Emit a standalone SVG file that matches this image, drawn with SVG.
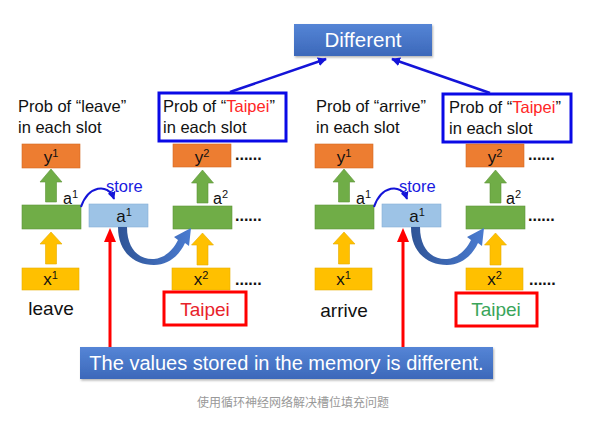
<svg xmlns="http://www.w3.org/2000/svg" width="603" height="423" viewBox="0 0 603 423">
<defs>
<linearGradient id="gBlue" x1="0" y1="0" x2="0" y2="1">
<stop offset="0" stop-color="#5585D6"/>
<stop offset="1" stop-color="#3C68BA"/>
</linearGradient>
<linearGradient id="gCurve" x1="0" y1="0" x2="1" y2="0">
<stop offset="0" stop-color="#2F5496"/>
<stop offset="1" stop-color="#4A7BD0"/>
</linearGradient>
<filter id="sh" x="-10%" y="-10%" width="120%" height="140%">
<feDropShadow dx="1" dy="1.5" stdDeviation="1" flood-color="#000" flood-opacity="0.3"/>
</filter>
<marker id="mBlue" viewBox="0 0 10 10" refX="9" refY="5" markerWidth="9" markerHeight="9" markerUnits="userSpaceOnUse" orient="auto">
<path d="M0,0 L10,5 L0,10 Z" fill="#1414D8"/>
</marker>
<marker id="mStore" viewBox="0 0 10 10" refX="9" refY="5" markerWidth="8" markerHeight="8" markerUnits="userSpaceOnUse" orient="auto">
<path d="M0,0 L10,5 L0,10 Z" fill="#1414D8"/>
</marker>
</defs>
<style>
.t{font-family:"Liberation Sans",Arial,sans-serif;fill:#111}
.prob{font-size:16.5px}
.orange{fill:#ED7D31;stroke:#D46A22;stroke-width:0.6}
.green{fill:#70AD47;stroke:#5E9539;stroke-width:0.6}
.yellow{fill:#FFC000;stroke:#E6AD00;stroke-width:0.6}
.lblue{fill:#9DC3E6;stroke:#86AFD6;stroke-width:0.6}
.garrow{fill:#70AD47;stroke:#5E9539;stroke-width:0.6}
.yarrow{fill:#FFC000;stroke:#E6AD00;stroke-width:0.6}
.bl{font-size:17px}
.sup{font-size:11px}
.dots{font-size:16px;font-weight:bold}
.bbox{fill:#fff;stroke:#0A0AE6;stroke-width:3}
.rbox{fill:#fff;stroke:#FF0000;stroke-width:3}
.bnr{fill:url(#gBlue)}
.wt{font-family:"Liberation Sans",Arial,sans-serif;fill:#fff}
</style>
<rect width="603" height="423" fill="#fff"/>

<g id="different">
<rect x="294" y="24" width="138" height="32" class="bnr" filter="url(#sh)"/>
<text x="363" y="47" class="wt" font-size="20.5" text-anchor="middle">Different</text>
</g>

<g id="probLeave">
<text x="18" y="112" class="t prob">Prob of “leave”</text>
<text x="18" y="133" class="t prob">in each slot</text>
</g>
<g id="probTaipeiL">
<rect x="159" y="93" width="127" height="48" class="bbox"/>
<text x="163" y="112" class="t prob">Prob of “<tspan fill="#FF2626">Taipei</tspan>”</text>
<text x="163" y="133" class="t prob">in each slot</text>
</g>
<g id="y1L">
<rect x="22" y="144" width="58" height="24" class="orange"/>
<text x="51" y="163" class="t bl" text-anchor="middle">y<tspan class="sup" dy="-6">1</tspan></text>
</g>
<g id="h1L">
<rect x="22" y="205" width="59" height="24" class="green"/>
<text x="63" y="204" class="t" font-size="16">a<tspan class="sup" dy="-6">1</tspan></text>
</g>
<g id="storeL">
<rect x="89" y="204" width="59" height="23" class="lblue"/>
<text x="124" y="222" class="t bl" text-anchor="middle">a<tspan class="sup" dy="-6">1</tspan></text>
<text x="106" y="192" font-family="Liberation Sans,Arial,sans-serif" font-size="16.5" fill="#1A1AE0">store</text>
</g>
<g id="x1L">
<rect x="22" y="268" width="57" height="22" class="yellow"/>
<text x="50.5" y="285" class="t bl" text-anchor="middle">x<tspan class="sup" dy="-6">1</tspan></text>
</g>
<g id="leave">
<text x="51" y="315" class="t" font-size="19" text-anchor="middle">leave</text>
</g>
<g id="y2L">
<rect x="173" y="144" width="58" height="23" class="orange"/>
<text x="202" y="163" class="t bl" text-anchor="middle">y<tspan class="sup" dy="-6">2</tspan></text>
<text x="235" y="160" class="t dots">......</text>
</g>
<g id="h2L">
<rect x="173" y="206" width="59" height="23" class="green"/>
<text x="213" y="204" class="t" font-size="16">a<tspan class="sup" dy="-6">2</tspan></text>
<text x="235" y="221" class="t dots">......</text>
</g>
<g id="x2L">
<rect x="172" y="268" width="58" height="22" class="yellow"/>
<text x="201" y="285" class="t bl" text-anchor="middle">x<tspan class="sup" dy="-6">2</tspan></text>
<text x="235" y="285" class="t dots">......</text>
</g>
<g id="taipeiL">
<rect x="164" y="292" width="82" height="33" class="rbox"/>
<text x="205" y="316" font-family="Liberation Sans,Arial,sans-serif" font-size="19" fill="#E8232B" text-anchor="middle">Taipei</text>
</g>

<g id="probArrive">
<text x="316" y="112" class="t prob">Prob of “arrive”</text>
<text x="316" y="133" class="t prob">in each slot</text>
</g>
<g id="probTaipeiR">
<rect x="443" y="94" width="128" height="48" class="bbox"/>
<text x="449" y="113" class="t prob">Prob of “<tspan fill="#FF2626">Taipei</tspan>”</text>
<text x="449" y="134" class="t prob">in each slot</text>
</g>
<g id="y1R">
<rect x="315" y="144" width="58" height="24" class="orange"/>
<text x="344" y="163" class="t bl" text-anchor="middle">y<tspan class="sup" dy="-6">1</tspan></text>
</g>
<g id="h1R">
<rect x="315" y="205" width="59" height="24" class="green"/>
<text x="356" y="204" class="t" font-size="16">a<tspan class="sup" dy="-6">1</tspan></text>
</g>
<g id="storeR">
<rect x="382" y="204" width="59" height="23" class="lblue"/>
<text x="417" y="222" class="t bl" text-anchor="middle">a<tspan class="sup" dy="-6">1</tspan></text>
<text x="399" y="192" font-family="Liberation Sans,Arial,sans-serif" font-size="16.5" fill="#1A1AE0">store</text>
</g>
<g id="x1R">
<rect x="315" y="268" width="57" height="22" class="yellow"/>
<text x="343.5" y="285" class="t bl" text-anchor="middle">x<tspan class="sup" dy="-6">1</tspan></text>
</g>
<g id="arrive">
<text x="344" y="317" class="t" font-size="19" text-anchor="middle">arrive</text>
</g>
<g id="y2R">
<rect x="466" y="144" width="58" height="23" class="orange"/>
<text x="495" y="163" class="t bl" text-anchor="middle">y<tspan class="sup" dy="-6">2</tspan></text>
<text x="528" y="160" class="t dots">......</text>
</g>
<g id="h2R">
<rect x="466" y="206" width="59" height="23" class="green"/>
<text x="506" y="204" class="t" font-size="16">a<tspan class="sup" dy="-6">2</tspan></text>
<text x="528" y="221" class="t dots">......</text>
</g>
<g id="x2R">
<rect x="466" y="268" width="57" height="22" class="yellow"/>
<text x="494.5" y="285" class="t bl" text-anchor="middle">x<tspan class="sup" dy="-6">2</tspan></text>
<text x="529" y="285" class="t dots">......</text>
</g>
<g id="taipeiR">
<rect x="456" y="293" width="81" height="33" class="rbox"/>
<text x="496" y="316" font-family="Liberation Sans,Arial,sans-serif" font-size="19" fill="#3AA55A" text-anchor="middle">Taipei</text>
</g>

<g id="banner">
<rect x="80" y="347" width="413" height="32" class="bnr" filter="url(#sh)"/>
<text x="286.5" y="370" class="wt" font-size="20" text-anchor="middle">The values stored in the memory is different.</text>
</g>

<g id="caption">
<text x="293" y="407" font-family="Noto Sans CJK SC,Noto Sans,sans-serif" font-size="12" fill="#999" text-anchor="middle">使用循环神经网络解决槽位填充问题</text>
</g>

<g id="connectors">
<line x1="230" y1="92" x2="326" y2="59" stroke="#1414D8" stroke-width="2.5" marker-end="url(#mBlue)"/>
<line x1="490" y1="93" x2="392" y2="59" stroke="#1414D8" stroke-width="2.5" marker-end="url(#mBlue)"/>

<polygon class="garrow" points="51,169 62,182 56.5,182 56.5,202 45.5,202 45.5,182 40,182"/>
<polygon class="garrow" points="202.5,170 213.5,183 208,183 208,203 197,203 197,183 191.5,183"/>
<polygon class="yarrow" points="51,232 62,244 56.5,244 56.5,264 45.5,264 45.5,244 40,244"/>
<polygon class="yarrow" points="202.5,233 213.5,245 208,245 208,265 197,265 197,245 191.5,245"/>
<polygon class="garrow" points="344,169 355,182 349.5,182 349.5,202 338.5,202 338.5,182 333,182"/>
<polygon class="garrow" points="495.5,170 506.5,183 501,183 501,203 490,203 490,183 484.5,183"/>
<polygon class="yarrow" points="344,232 355,244 349.5,244 349.5,264 338.5,264 338.5,244 333,244"/>
<polygon class="yarrow" points="495.5,233 506.5,245 501,245 501,265 490,265 490,245 484.5,245"/>

<path d="M81,207 C88,186 108,182 114,199" fill="none" stroke="#1414D8" stroke-width="2" marker-end="url(#mStore)"/>
<path d="M374,207 C381,186 401,182 407,199" fill="none" stroke="#1414D8" stroke-width="2" marker-end="url(#mStore)"/>

<g fill="url(#gCurve)">
<path d="M118,227 L127,227 C127,250 140,260 154,259 C165,258 173,250 178,240 L174,237 L191,228 L189,246 L185,243 C179,256 168,265 154,265 C134,265 118,252 118,227 Z"/>
<path d="M411,227 L420,227 C420,250 433,260 447,259 C458,258 466,250 471,240 L467,237 L484,228 L482,246 L478,243 C472,256 461,265 447,265 C427,265 411,252 411,227 Z"/>
</g>

<line x1="110" y1="347" x2="110" y2="240" stroke="#FF0000" stroke-width="3"/>
<polygon points="110,228 104,242 116,242" fill="#FF0000"/>
<line x1="403" y1="347" x2="403" y2="240" stroke="#FF0000" stroke-width="3"/>
<polygon points="403,228 397,242 409,242" fill="#FF0000"/>
</g>
</svg>
